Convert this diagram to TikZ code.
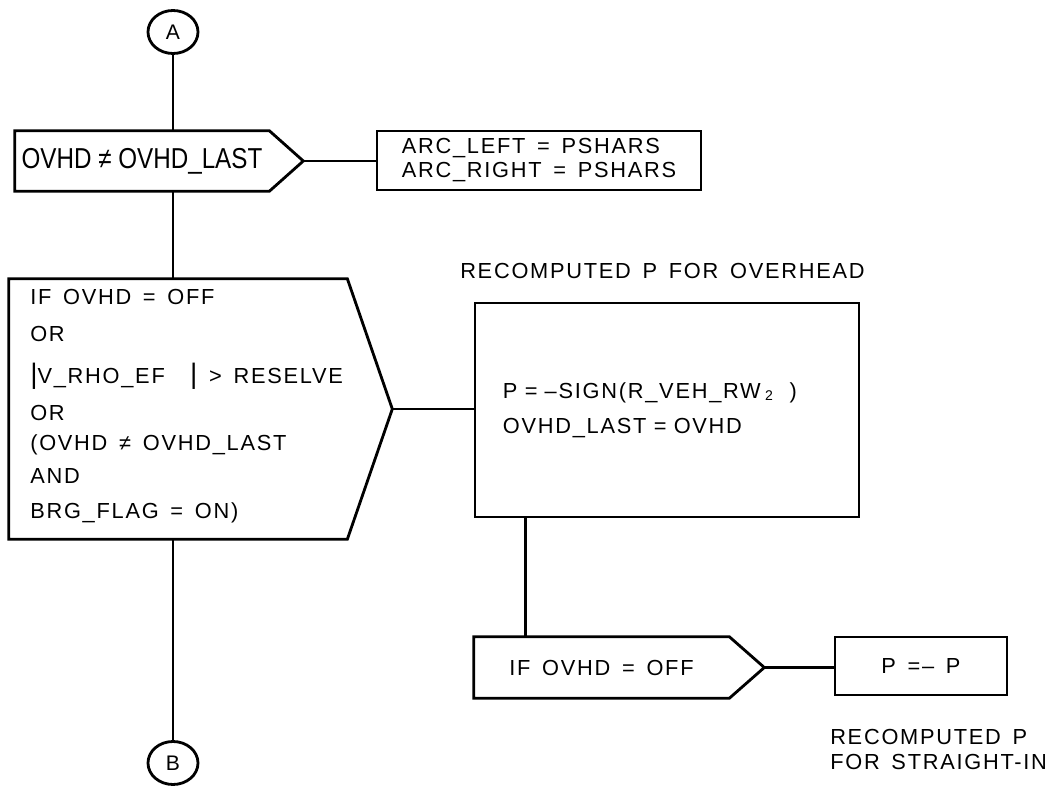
\documentclass[tikz,border=0pt]{standalone}
\usepackage{fontspec}
\setmainfont{Liberation Sans}
\newfontfamily\spacedfont[LetterSpace=8, WordSpace=1.5]{Liberation Sans}
\newfontfamily\narrowfont[FakeStretch=0.84]{Liberation Sans}
\usetikzlibrary{calc, shapes.geometric}

\begin{document}
\begin{tikzpicture}[x=0.025cm, y=-0.025cm,
    flow/.style={line width=2pt},
    txt/.style={font=\spacedfont\fontsize{15.5pt}{17pt}\selectfont},
    connector/.style={draw, flow, ellipse, inner sep=0pt, minimum width=1.25cm, minimum height=1.075cm, font=\fontsize{15pt}{15pt}\selectfont},
    procbox/.style={draw, flow, txt, inner sep=0pt},
    decbody/.style={txt, inner sep=0pt}]
    \useasboundingbox (0,0) rectangle (1052,787);

    \node[connector] (A) at (173,32) {A};
    \node[decbody, font=\narrowfont\fontsize{20.5pt}{20.5pt}\selectfont, minimum width=6.35cm, minimum height=1.5cm] (ovhd) at (142,161) {OVHD ≠ OVHD\_LAST};
    \coordinate (ovhd-tip) at ($(ovhd.east)+(34,0)$);
    \draw[flow] (ovhd.north west) -- (ovhd.north east) -- (ovhd-tip) -- (ovhd.south east) -- (ovhd.south west) -- cycle;
    \node[procbox, align=left, minimum width=8.1cm, minimum height=1.475cm] (arc) at (539,160.5) {ARC\_LEFT = PSHARS\\ARC\_RIGHT = PSHARS};

    \node[decbody, minimum width=8.45cm, minimum height=6.5cm] (chk) at (178,409) {};
    \node[txt, anchor=north west, align=left, inner sep=0pt] (chk-text) at (30,289) {%
        IF OVHD = OFF\\[9.5pt]
        OR\\[13pt]
        {\fontsize{20pt}{20pt}\selectfont|}V\_RHO\_EF\hspace{18pt}{\fontsize{20pt}{20pt}\selectfont|} > RESELVE\\[9pt]
        OR\\[4.5pt]
        (OVHD ≠ OVHD\_LAST\\[6pt]
        AND\\[8pt]
        BRG\_FLAG = ON)};
    \coordinate (chk-tip) at ($(chk.east)+(45,0)$);
    \draw[flow] (chk.north west) -- (chk.north east) -- (chk-tip) -- (chk.south east) -- (chk.south west) -- cycle;

    \node[txt, anchor=west, inner sep=0pt] (cap1) at (460,271) {RECOMPUTED P FOR OVERHEAD};
    \node[procbox, align=left, inner xsep=0.7cm, text width=8.2cm, minimum height=5.35cm, font=\spacedfont\fontsize{15.5pt}{25pt}\selectfont] (recomp) at (667,410) {%
        P = –SIGN(R\_VEH\_RW\hspace{3pt}{\fontsize{10pt}{10pt}\selectfont\raisebox{-2pt}{2}}\hspace{12pt})\\
        OVHD\_LAST = OVHD};
    \coordinate (recomp-out) at ($(recomp.south west)+(52,0)$);

    \node[decbody, minimum width=6.375cm, minimum height=1.525cm] (ifoff) at (601.5,667.5) {IF OVHD = OFF};
    \coordinate (ifoff-tip) at ($(ifoff.east)+(35,0)$);
    \draw[flow] (ifoff.north west) -- (ifoff.north east) -- (ifoff-tip) -- (ifoff.south east) -- (ifoff.south west) -- cycle;
    \node[procbox, minimum width=4.3cm, minimum height=1.45cm] (flip) at (921,666) {P =– P};
    \node[txt, anchor=west, align=left, inner sep=0pt, font=\spacedfont\fontsize{15.5pt}{17.8pt}\selectfont] (cap2) at (830,749.5) {RECOMPUTED P\\FOR STRAIGHT-IN};

    \node[connector] (B) at (173,763) {B};

    \draw[flow] (A) -- (A |- ovhd.north);
    \draw[flow] (ovhd-tip) -- (ovhd-tip -| arc.west);
    \draw[flow] (A |- ovhd.south) -- (A |- chk.north);
    \draw[flow] (chk-tip) -- (chk-tip -| recomp.west);
    \draw[flow] (recomp-out) -- (recomp-out |- ifoff.north);
    \draw[flow] (ifoff-tip) -- (ifoff-tip -| flip.west);
    \draw[flow] (A |- chk.south) -- (B);
\end{tikzpicture}
\end{document}
